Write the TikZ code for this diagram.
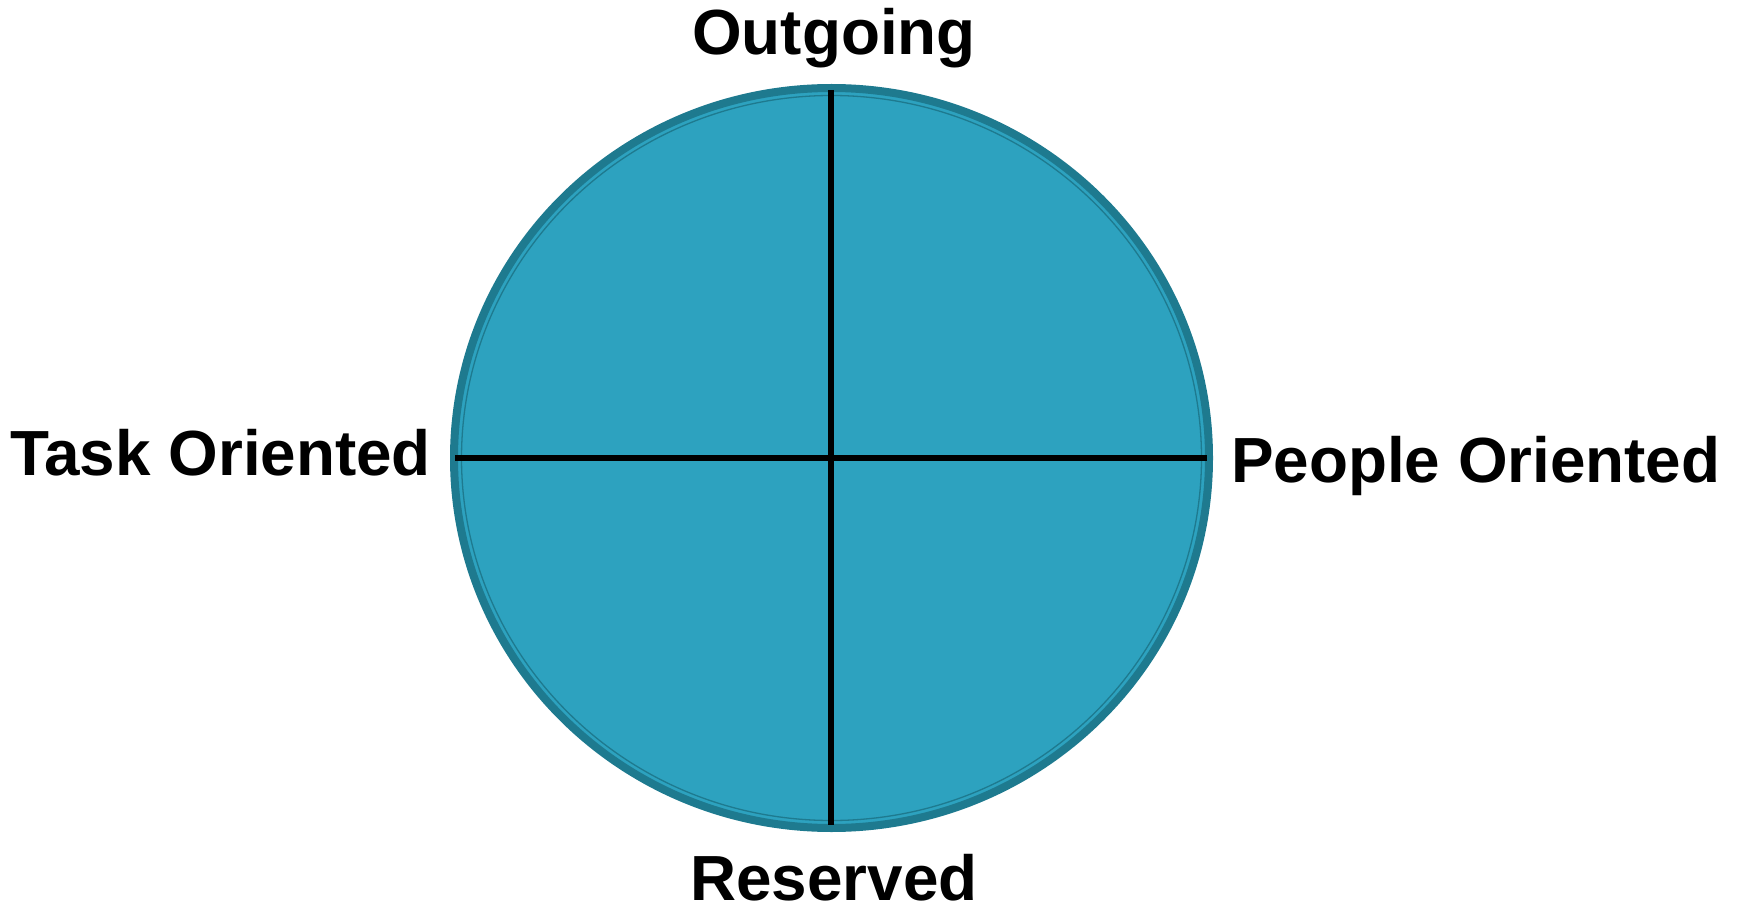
\documentclass[tikz,border=0pt]{standalone}
\usepackage{fontspec}
\setmainfont{Liberation Sans}
\usetikzlibrary{shapes.geometric}
\definecolor{discfill}{HTML}{2DA2BF}
\definecolor{discedge}{HTML}{1E7A8F}
\tikzset{
  lbl/.style={font=\fontsize{63.8}{64}\selectfont\bfseries, inner sep=0pt, text=black},
  axisline/.style={line width=6pt, black},
}
\begin{document}
\begin{tikzpicture}[x=1pt,y=-1pt]
\useasboundingbox (0,0) rectangle (1740,909);
% disc
\node[ellipse, draw=discedge, line width=8pt, fill=discfill, minimum width=755pt, minimum height=740pt, inner sep=0pt] (disc) at (831.5,458) {};
\draw[discedge, line width=1.3pt] (831.5,458) ellipse [x radius=370, y radius=362.5];
% axes
\coordinate (L) at (455,458);
\coordinate (R) at (1207,458);
\coordinate (T) at (831,90);
\coordinate (B) at (831,825);
\draw[axisline] (L) -- (R);
\draw[axisline] (T) -- (B);
% labels
\node[lbl, anchor=base] (out) at (834,55) {Outgoing};
\node[lbl, anchor=base] (res) at (834,900) {Reserved};
\node[lbl, anchor=base west] (task) at (10,475) {Task Oriented};
\node[lbl, anchor=base west] (people) at (1231,482) {People Oriented};
\end{tikzpicture}
\end{document}
